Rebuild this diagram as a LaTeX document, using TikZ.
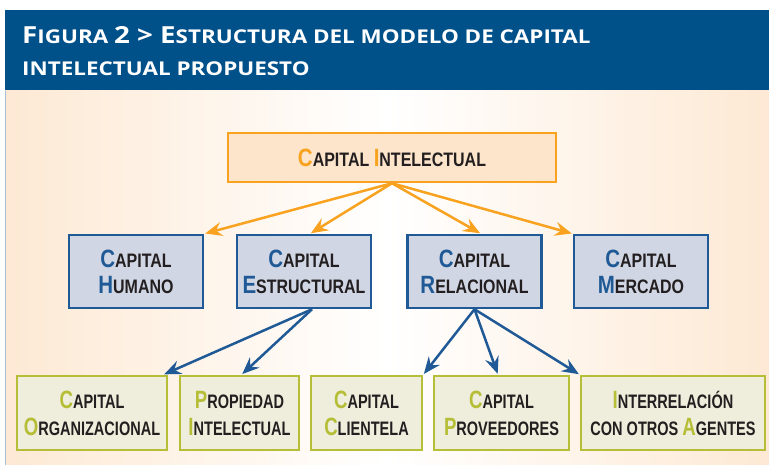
\documentclass[tikz,border=0pt]{standalone}
\usepackage{fontspec}
\usetikzlibrary{arrows.meta}
\newfontfamily\boxfont[FakeStretch=0.82]{Liberation Sans}
\newfontfamily\lowfont[FakeStretch=0.745]{Liberation Sans}
\newfontfamily\hdrfont[FakeStretch=1.18]{Open Sans}
\definecolor{hdrblue}{RGB}{0,80,138}
\definecolor{peach}{RGB}{253,233,212}
\definecolor{leftline}{RGB}{170,190,215}
\definecolor{txtdark}{RGB}{35,31,32}
\definecolor{topfill}{RGB}{253,229,203}
\definecolor{topline}{RGB}{248,162,31}
\definecolor{midfill}{RGB}{209,214,228}
\definecolor{midline}{RGB}{31,90,150}
\definecolor{lowfill}{RGB}{239,238,220}
\definecolor{lowline}{RGB}{181,190,54}
\newcommand{\inicial}[2]{{\color{#1}\fontsize{25}{26}\selectfont #2}}
\newcommand{\hdrbig}[1]{{\fontsize{23.5}{24}\selectfont #1}}

\begin{document}
\begin{tikzpicture}[x=1pt,y=-1pt,
  caja/.style={draw, line width=2.5pt, minimum width=#1, align=center, inner sep=0pt, text=txtdark},
  cajatop/.style={caja=328pt, minimum height=49pt, fill=topfill, draw=topline,
    font=\boxfont\bfseries\fontsize{19.5}{26}\selectfont},
  cajamid/.style={caja=134pt, minimum height=73pt, fill=midfill, draw=midline,
    font=\boxfont\bfseries\fontsize{19.5}{26}\selectfont},
  cajalow/.style={caja=#1, minimum height=74pt, fill=lowfill, draw=lowline,
    font=\lowfont\bfseries\fontsize{19.5}{27}\selectfont},
  flecha/.style={-{Stealth[length=17pt,width=14pt,inset=6pt]}, line width=2.5pt, shorten >=1pt},
  titulo/.style={anchor=base west, inner sep=0pt, text=white,
    font=\hdrfont\bfseries\fontsize{19}{20}\selectfont}]
  \useasboundingbox (0,0) rectangle (769,465);
  \fill[white] (0,0) rectangle (769,465);
  % cabecera
  \fill[hdrblue] (5,10) rectangle (769,91);
  \shade[left color=peach, right color=peach, middle color=white] (5,91) rectangle (769,465);
  \draw[leftline, line width=1pt] (5,91) -- (5,465);
  \node[titulo] (tit1) at (22,44) {\hdrbig{F}IGURA \hdrbig{2 > E}STRUCTURA DEL MODELO DE CAPITAL};
  \node[titulo] (tit2) at (22,76) {INTELECTUAL PROPUESTO};

  \node[cajatop] (ci) at (392,157.5) {\inicial{topline}{C}APITAL \inicial{topline}{I}NTELECTUAL};

  \node[cajamid] (hum) at (136,271.5) {\inicial{midline}{C}APITAL\\\inicial{midline}{H}UMANO};
  \node[cajamid] (est) at (304,271.5) {\inicial{midline}{C}APITAL\\\inicial{midline}{E}STRUCTURAL};
  \node[cajamid] (rel) at (474.5,271.5) {\inicial{midline}{C}APITAL\\\inicial{midline}{R}ELACIONAL};
  \node[cajamid] (mer) at (641,271.5) {\inicial{midline}{C}APITAL\\\inicial{midline}{M}ERCADO};

  \node[cajalow=150pt] (org) at (92,413) {\inicial{lowline}{C}APITAL\\\inicial{lowline}{O}RGANIZACIONAL};
  \node[cajalow=119pt] (pro) at (239.5,413) {\inicial{lowline}{P}ROPIEDAD\\\inicial{lowline}{I}NTELECTUAL};
  \node[cajalow=111pt] (cli) at (366.5,413) {\inicial{lowline}{C}APITAL\\\inicial{lowline}{C}LIENTELA};
  \node[cajalow=135pt] (prv) at (501.5,413) {\inicial{lowline}{C}APITAL\\\inicial{lowline}{P}ROVEEDORES};
  \node[cajalow=184pt] (int) at (673,413) {\inicial{lowline}{I}NTERRELACIÓN\\CON OTROS \inicial{lowline}{A}GENTES};

  % flechas
  \draw[flecha, topline] (ci.south) -- (hum.north east);
  \draw[flecha, topline] (ci.south) -- ([xshift=6pt]est.north);
  \draw[flecha, topline] (ci.south) -- ([xshift=6.5pt]rel.north);
  \draw[flecha, topline] (ci.south) -- (mer.north west);
  \draw[flecha, midline] ([xshift=8pt]est.south) -- ([xshift=-5pt]org.north east);
  \draw[flecha, midline] ([xshift=8pt]est.south) -- ([xshift=2pt]pro.north);
  \draw[flecha, midline] (rel.south) -- (cli.north east);
  \draw[flecha, midline] (rel.south) -- ([xshift=-3.5pt]prv.north);
  \draw[flecha, midline] (rel.south) -- (int.north west);
\end{tikzpicture}
\end{document}
